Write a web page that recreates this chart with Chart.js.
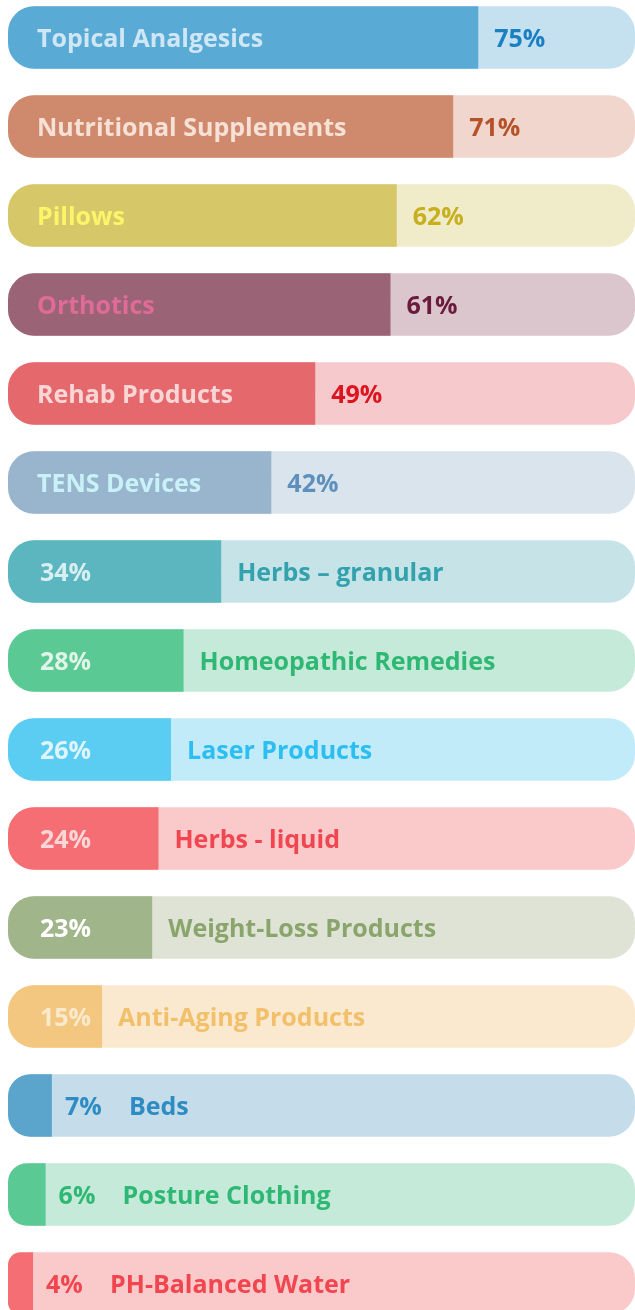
<!DOCTYPE html>
<html><head><meta charset="utf-8">
<script src="https://cdn.jsdelivr.net/npm/chart.js@4.4.1/dist/chart.umd.min.js"></script>
<style>
html,body{margin:0;padding:0;background:#fff;overflow:hidden;width:635px;height:1310px;}
#wrap{position:absolute;left:0;top:-7px;width:635px;height:1335px;}
</style></head><body>
<div id="wrap"><canvas id="c" width="635" height="1335"></canvas></div>
<script>
// ---- data ----
const categories = [
  "Topical Analgesics", "Nutritional Supplements", "Pillows", "Orthotics",
  "Rehab Products", "TENS Devices", "Herbs – granular", "Homeopathic Remedies",
  "Laser Products", "Herbs - liquid", "Weight-Loss Products", "Anti-Aging Products",
  "Beds", "Posture Clothing", "PH-Balanced Water"
];
const shares = [75, 71, 62, 61, 49, 42, 34, 28, 26, 24, 23, 15, 7, 6, 4];
const trackMax = 100;

// ---- styles ----
const fillColors  = ["#5aaad6","#cf8a6e","#d6c868","#9a6476","#e5686d","#99b5cd","#5cb6bf","#5bc993","#5bcdf3","#f46e73","#a1b58b","#f3c77f","#5ba5cd","#5bc993","#f46e73"];
const trackColors = ["#c5e1ef","#f0d6cd","#f0ebc9","#dbc6cd","#f6c9cc","#dae4ed","#c6e4e8","#c5eada","#c2ebf9","#facacb","#dee3d5","#fae9cf","#c5ddeb","#c5eada","#facacb"];
const innerText   = ["#cfe7f5","#f7e1d7","#fbf56a","#e06b97","#f9d6d6","#c8f2f8","#d7eff1","#e1f4ea","#dff4fb","#fdd7d8","#ffffff","#faeacd","#2e8cc3","#2eb873","#f1464f"];
const outerText   = ["#1a7fc3","#b5522a","#c7af1e","#6a1a3b","#dc1420","#5e90bd","#33a2ad","#2eb873","#2dbef1","#f1464f","#8aa56c","#f2bf6a","#2e8cc3","#2eb873","#f1464f"];
const FONT = '700 25px "Open Sans"';
const RADIUS = 26;

const labelPlugin = {
  id: 'barLabels',
  afterDatasetsDraw(chart) {
    const ctx = chart.ctx;
    const meta = chart.getDatasetMeta(1);
    ctx.save();
    ctx.font = FONT;
    ctx.textBaseline = 'alphabetic';
    ctx.textAlign = 'left';
    meta.data.forEach((el, i) => {
      const start = el.base, end = el.x, y = el.y + 9;
      const fillW = end - start;
      const pct = shares[i] + '%';
      const name = categories[i];
      const nameW = ctx.measureText(name).width;
      const pctW = ctx.measureText(pct).width;
      const draw = (t, x, c) => { ctx.fillStyle = c; ctx.fillText(t, x, y); };
      if (29 + nameW + 10 <= fillW) {
        draw(name, start + 29, innerText[i]);
        draw(pct, end + 16, outerText[i]);
      } else if (30 + pctW + 6 <= fillW) {
        draw(pct, start + 32, innerText[i]);
        draw(name, end + 16, outerText[i]);
      } else {
        draw(pct, end + 13, outerText[i]);
        draw(name, end + 13 + 64, outerText[i]);
      }
    });
    ctx.restore();
  }
};

new Chart(document.getElementById('c'), {
  type: 'bar',
  data: {
    labels: categories,
    datasets: [
      {
        label: 'track',
        data: categories.map(() => trackMax),
        backgroundColor: trackColors,
        borderRadius: RADIUS,
        borderSkipped: false,
        grouped: false,
        order: 2,
        barPercentage: 0.702,
        categoryPercentage: 1
      },
      {
        label: 'share',
        data: shares,
        backgroundColor: fillColors,
        borderRadius: {topLeft: RADIUS, bottomLeft: RADIUS, topRight: 0, bottomRight: 0},
        borderSkipped: false,
        grouped: false,
        order: 1,
        barPercentage: 0.702,
        categoryPercentage: 1
      }
    ]
  },
  options: {
    indexAxis: 'y',
    responsive: false,
    animation: false,
    layout: {padding: {left: 8, right: 0, top: 0, bottom: 0}},
    plugins: {legend: {display: false}, tooltip: {enabled: false}},
    scales: {
      x: {display: false, min: 0, max: trackMax},
      y: {display: false}
    }
  },
  plugins: [labelPlugin]
});
</script>
</body></html>
